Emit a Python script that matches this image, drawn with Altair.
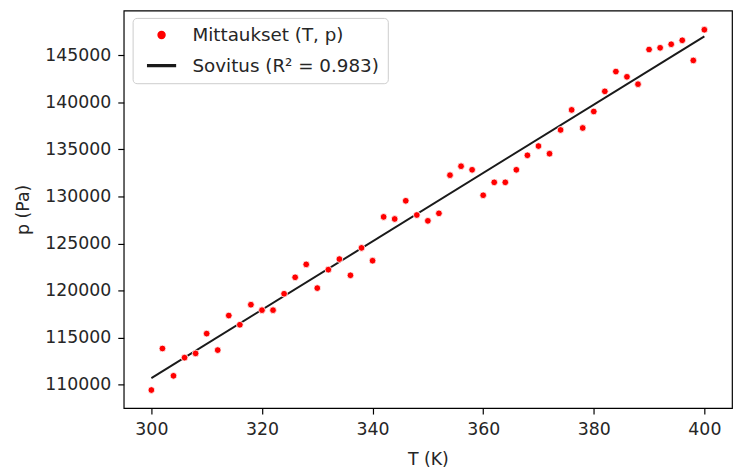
import altair as alt
import pandas as pd

T_values = [300, 302, 304, 306, 308, 310, 312, 314, 316, 318,
            320, 322, 324, 326, 328, 330, 332, 334, 336, 338,
            340, 342, 344, 346, 348, 350, 352, 354, 356, 358,
            360, 362, 364, 366, 368, 370, 372, 374, 376, 378,
            380, 382, 384, 386, 388, 390, 392, 394, 396, 398, 400]
p_values = [109440, 113850, 110950, 112880, 113330, 115430, 113680, 117350, 116370, 118500,
            117920, 117920, 119660, 121410, 122780, 120260, 122220, 123340, 121620, 124530,
            123170, 127820, 127600, 129530, 128020, 127400, 128200, 132250, 133200, 132820,
            130120, 131490, 131490, 132820, 134360, 135340, 134530, 137050, 139180, 137260,
            139010, 141150, 143250, 142690, 141910, 145590, 145770, 146150, 146570, 144430, 147690]

label_points = "Mittaukset (T, p)"
label_fit = "Sovitus (R² = 0.983)"
x_ticks = [300, 320, 340, 360, 380, 400]
y_ticks = [110000, 115000, 120000, 125000, 130000, 135000, 140000, 145000]

df = pd.DataFrame({"T": T_values, "p": p_values, "series": label_points})

FONT = "DejaVu Sans"
FS = 17.5
FS_LEG = 18.5

x_enc = alt.X("T:Q", scale=alt.Scale(domain=[295, 405], nice=False, zero=False),
              axis=alt.Axis(values=x_ticks, title="T (K)", format="d"))
y_enc = alt.Y("p:Q", scale=alt.Scale(domain=[107520, 149730], nice=False, zero=False),
              axis=alt.Axis(values=y_ticks, title="p (Pa)", format="d"))

color_scale = alt.Scale(domain=[label_points, label_fit], range=["#ff0000", "#1a1a1a"])
shape_scale = alt.Scale(domain=[label_points, label_fit],
                        range=["circle", "M-4,-0.27H4V0.27H-4Z"])

legend = alt.Legend(
    title=None, orient="none", legendX=9, legendY=7.5,
    labelFont=FONT, labelFontSize=FS_LEG, labelColor="#262626", labelLimit=400,
    symbolSize=49, symbolOffset=12, labelOffset=22,
    padding=8, rowPadding=12,
    strokeColor="#cccccc", fillColor="rgba(255,255,255,0.8)", cornerRadius=4,
)

points = alt.Chart(df).mark_point(filled=True, size=46, opacity=1, stroke="white",
                                  strokeWidth=0.8).encode(
    x=x_enc, y=y_enc,
    color=alt.Color("series:N", scale=color_scale, legend=legend),
    shape=alt.Shape("series:N", scale=shape_scale, legend=legend),
)

fit = alt.Chart(df).transform_regression("T", "p").transform_calculate(
    series=f"'{label_fit}'"
).mark_line(strokeWidth=2).encode(
    x=x_enc, y=y_enc,
    color=alt.Color("series:N", scale=color_scale, legend=legend),
)

chart = alt.layer(fit, points).properties(
    width=615, height=402,
    autosize=alt.AutoSizeParams(type="none"),
    padding={"left": 117, "top": 0, "right": 2, "bottom": 58},
).configure_view(
    stroke="#000000", strokeWidth=1.2
).configure_axis(
    grid=False, domain=False, tickColor="#000000", tickSize=6, tickWidth=1.2,
    labelFont=FONT, labelFontSize=FS, labelColor="#262626", labelPadding=7,
    titleFont=FONT, titleFontSize=FS, titleColor="#262626", titleFontWeight="normal",
).configure_axisX(titlePadding=12).configure_axisY(titlePadding=12)

chart.save("out.html", embed_options={"renderer": "svg", "actions": False})
